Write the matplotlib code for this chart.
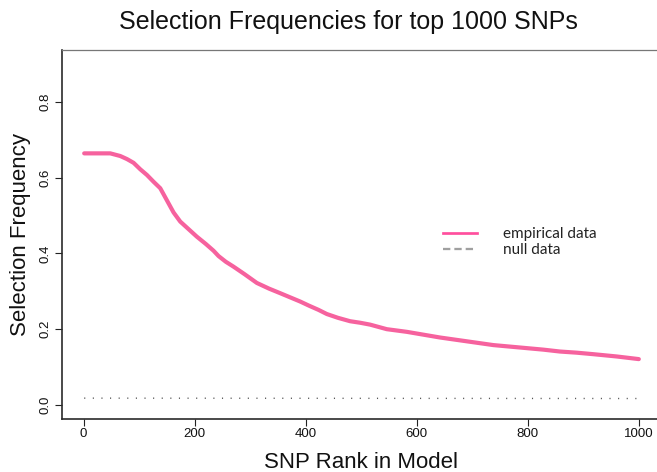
import matplotlib
matplotlib.use('Agg')
import matplotlib.pyplot as plt
from matplotlib.lines import Line2D

# ---- data ----
emp_rank = [1, 48, 66, 78, 90, 102, 114, 126, 138, 150, 162, 174, 186, 204, 220,
            234, 243, 256, 270, 290, 312, 334, 354, 372, 390, 406, 423, 438, 458,
            480, 498, 516, 546, 582, 618, 642, 666, 690, 714, 738, 768, 798, 828,
            858, 888, 918, 960, 1000]
emp_freq = [0.664, 0.664, 0.657, 0.649, 0.639, 0.622, 0.607, 0.589, 0.572, 0.540,
            0.508, 0.484, 0.468, 0.444, 0.425, 0.407, 0.393, 0.378, 0.365, 0.345,
            0.322, 0.307, 0.295, 0.284, 0.273, 0.262, 0.251, 0.240, 0.230, 0.221,
            0.217, 0.212, 0.200, 0.193, 0.184, 0.178, 0.173, 0.168, 0.163, 0.158,
            0.154, 0.150, 0.146, 0.141, 0.138, 0.134, 0.128, 0.121]
null_rank = [1, 1000]
null_freq = [0.018, 0.017]

x_ticks = [0, 200, 400, 600, 800, 1000]
x_ticklabels = ['0', '200', '400', '600', '800', '1000']
y_ticks = [0.0, 0.2, 0.4, 0.6, 0.8]
y_ticklabels = ['0.0', '0.2', '0.4', '0.6', '0.8']
legend_labels = ['empirical data', 'null data']

title = 'Selection Frequencies for top 1000 SNPs'
xlabel = 'SNP Rank in Model'
ylabel = 'Selection Frequency'

# ---- figure ----
W, H = 657, 472
fig = plt.figure(figsize=(W / 100, H / 100), dpi=100)
fig.patch.set_facecolor('white')
font = 'Liberation Sans'
plt.rcParams['font.family'] = [font, 'DejaVu Sans']

ax_left, ax_right, ax_top, ax_bottom = 62, 661, 50.3, 418.6
ax = fig.add_axes([ax_left / W, 1 - ax_bottom / H, (ax_right - ax_left) / W,
                   (ax_bottom - ax_top) / H])

ax.plot(emp_rank, emp_freq, color='#F6629E', lw=3.0, solid_capstyle='round',
        solid_joinstyle='round', zorder=3)
ax.plot(null_rank, null_freq, color='#555555', lw=1.0,
        linestyle=(0, (0.8, 5.4)), zorder=2)

ax.set_xlim(1 - 0.04 * 999, 1000 + 0.04 * 999)
ax.set_ylim(-0.036, 0.936)

ax.set_xticks(x_ticks)
ax.set_xticklabels(x_ticklabels)
ax.set_yticks(y_ticks)
ax.set_yticklabels(y_ticklabels, rotation=90, va='center')
ax.tick_params(axis='both', direction='out', length=5, width=0.8,
               colors='#222222', labelsize=9.5, labelcolor='#111111')
ax.tick_params(axis='x', pad=2)
ax.tick_params(axis='y', pad=2.5)

for side in ['top', 'right']:
    ax.spines[side].set_color('#777777')
    ax.spines[side].set_linewidth(0.9)
for side in ['left', 'bottom']:
    ax.spines[side].set_color('#2a2a2a')
    ax.spines[side].set_linewidth(1.2)

ax.set_xlabel(xlabel, fontsize=16, color='#111111')
ax.xaxis.label.set_va('center')
ax.xaxis.set_label_coords(0.5, (ax_bottom - 462) / (ax_bottom - ax_top))
ax.set_ylabel(ylabel, fontsize=16, color='#111111')
ax.yaxis.label.set_va('center')
ax.yaxis.set_label_coords((21 - ax_left) / (ax_right - ax_left), 0.5)

fig.suptitle(title, x=348 / W, y=1 - 22 / H, va='center', ha='center',
             fontsize=18, color='#111111')

handles = [Line2D([], [], color='#FF4F9E', lw=1.95),
           Line2D([], [], color='#A0A0A0', lw=1.65, dashes=(3.2, 1.75))]
leg = ax.legend(handles, legend_labels, loc='upper left',
                bbox_to_anchor=(443 / W, 1 - 227 / H),
                bbox_transform=fig.transFigure, frameon=False,
                prop={'family': ['Lato', 'DejaVu Sans'], 'size': 11},
                handlelength=2.22, handletextpad=1.7, labelspacing=0.14,
                borderpad=0, borderaxespad=0)
for t in leg.get_texts():
    t.set_color('#222222')

fig.savefig('out.png', dpi=100)
